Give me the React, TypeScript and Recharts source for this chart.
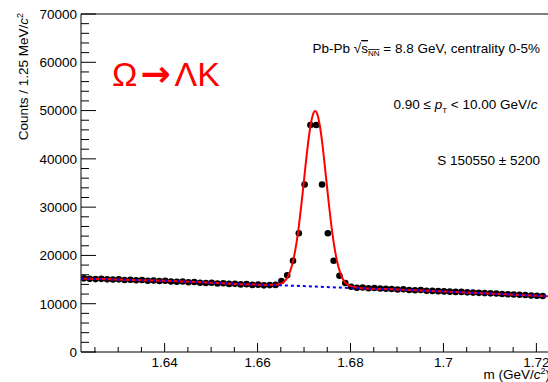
import React from 'react';
import { ComposedChart, Line, XAxis, YAxis, ReferenceLine } from 'recharts';

// histogram binning (1.25 MeV/c^2 bins)
const MASS_MIN = 1.622;
const BIN_WIDTH = 0.00125;

// counts per bin
const counts = [
  15250, 15150, 15100, 15150, 15050, 15000, 15050, 14900, 14950, 14850,
  14900, 14750, 14800, 14700, 14750, 14600, 14550, 14600, 14450, 14500,
  14350, 14300, 14350, 14200, 14250, 14100, 14150, 14000, 14050, 13900,
  13950, 13800, 13850, 13900, 14700, 15900, 18900, 24600, 34700, 47000,
  47000, 34700, 24600, 18900, 15800, 14300, 13500, 13300, 13350, 13200,
  13250, 13150, 13100, 13050, 12950, 13000, 12850, 12800, 12850, 12700,
  12650, 12600, 12550, 12500, 12450, 12450, 12350, 12300, 12250, 12200,
  12150, 12100, 12000, 11950, 11900, 11850, 11800, 11700, 11650, 11600,
];

// background fit (blue dotted)
const bkgFit: [number, number][] = [
  [1.622, 15200], [1.63, 15000], [1.64, 14750], [1.65, 14350], [1.66, 13950],
  [1.67, 13650], [1.68, 13250], [1.69, 12950], [1.7, 12550], [1.71, 12100], [1.7225, 11550],
];

// signal + background fit (red)
const totalFit: [number, number][] = [
  [1.622, 15200], [1.63, 15000], [1.64, 14750], [1.65, 14350], [1.66, 13950],
  [1.6624, 13900], [1.6644, 13990], [1.6654, 14320], [1.6664, 15370], [1.6674, 17900],
  [1.6684, 22770], [1.6689, 26230], [1.6694, 30310], [1.6699, 34780], [1.6704, 39310],
  [1.6709, 43510], [1.6714, 46910], [1.6719, 49140], [1.6724, 49900], [1.6729, 49110],
  [1.6734, 46850], [1.6739, 43420], [1.6744, 39190], [1.6749, 34630], [1.6754, 30130],
  [1.6759, 26030], [1.6764, 22530], [1.6774, 17600], [1.6784, 15010], [1.6794, 13910],
  [1.6804, 13500], [1.6824, 13220], [1.69, 12950], [1.7, 12550], [1.71, 12100], [1.7225, 11550],
];

const xMajorTicks = [1.64, 1.66, 1.68, 1.7, 1.72];
const yMajorTicks = [0, 10000, 20000, 30000, 40000, 50000, 60000, 70000];

const xAllTicks = Array.from({ length: 20 }, (_, i) => Math.round(1625 + i * 5) / 1000);
const yAllTicks = Array.from({ length: 36 }, (_, i) => i * 2000);

const points = counts.map((v, i) => ({ m: MASS_MIN + BIN_WIDTH * (i + 0.5), v }));
const bkgData = bkgFit.map(([m, v]) => ({ m, v }));
const totalData = totalFit.map(([m, v]) => ({ m, v }));

const FONT = '"Liberation Sans", Arial, Helvetica, sans-serif';

const XTick = (props: any) => {
  const { x, y, payload } = props;
  const major = xMajorTicks.some(t => Math.abs(t - payload.value) < 1e-6);
  return (
    <g>
      <line x1={x} x2={x} y1={y} y2={y - (major ? 9 : 5)} stroke="#000" strokeWidth={1} />
      {major && (
        <text x={x} y={y + 14.5} textAnchor="middle" fontSize={13.5} fontFamily={FONT} fill="#000">
          {String(payload.value)}
        </text>
      )}
    </g>
  );
};

const YTick = (props: any) => {
  const { x, y, payload } = props;
  const major = yMajorTicks.includes(payload.value);
  return (
    <g>
      <line x1={x} x2={x + (major ? 15 : 8)} y1={y} y2={y} stroke="#000" strokeWidth={1} />
      {major && (
        <text x={x - 4} y={y + 4.8} textAnchor="end" fontSize={13.5} fontFamily={FONT} fill="#000">
          {String(payload.value)}
        </text>
      )}
    </g>
  );
};

export default function App() {
  return (
    <div style={{ position: 'absolute', left: 0, top: 0, width: 548, height: 382, overflow: 'hidden', background: '#fff' }}>
      <ComposedChart width={560} height={382} margin={{ top: 14, right: 12, bottom: 0, left: 0 }}>
        <XAxis
          type="number"
          dataKey="m"
          domain={[1.622, 1.7225]}
          ticks={xAllTicks}
          interval={0}
          height={30}
          tickSize={0}
          tickMargin={0}
          tickLine={false}
          tick={<XTick />}
          axisLine={{ stroke: '#000' }}
          allowDataOverflow
        />
        <YAxis
          type="number"
          domain={[0, 70000]}
          ticks={yAllTicks}
          interval={0}
          width={81}
          tickSize={0}
          tickMargin={0}
          tickLine={false}
          tick={<YTick />}
          axisLine={{ stroke: '#000' }}
          allowDataOverflow
        />
        <ReferenceLine y={70000} stroke="#000" strokeWidth={1} />
        {/* data points sit under the fit curves, as in the ROOT canvas */}
        <Line
          data={points}
          dataKey="v"
          stroke="none"
          dot={{ r: 3.3, fill: '#000', stroke: 'none' }}
          isAnimationActive={false}
          zIndex={100}
        />
        <Line
          data={totalData}
          dataKey="v"
          type="monotone"
          stroke="#ff0000"
          strokeWidth={2}
          dot={false}
          isAnimationActive={false}
          zIndex={700}
        />
        <Line
          data={bkgData}
          dataKey="v"
          type="monotone"
          stroke="#0000ff"
          strokeWidth={2}
          strokeDasharray="3 3"
          dot={false}
          isAnimationActive={false}
          zIndex={800}
        />
      </ComposedChart>
      <svg width={548} height={382} style={{ position: 'absolute', left: 0, top: 0, pointerEvents: 'none' }} fontFamily={FONT}>
        <text transform="translate(27.5,13) rotate(-90)" textAnchor="end" fontSize={13.5} fill="#000">
          Counts / 1.25 MeV/<tspan fontStyle="italic">c</tspan>
          <tspan dy={-5} fontSize={9}>2</tspan>
        </text>
        <text x={550} y={379} textAnchor="end" fontSize={13.5} fill="#000">
          m (GeV/<tspan fontStyle="italic">c</tspan>
          <tspan dy={-5} fontSize={9}>2</tspan>
          <tspan dy={5}>)</tspan>
        </text>
        <text x={112} y={86} fontSize={34} fill="#ff0000">
          Ω<tspan fontFamily="DejaVu Sans" fontWeight="bold" fontSize={36} dx={3}>→</tspan>
          <tspan dx={4}>ΛK</tspan>
        </text>
        <text x={540} y={53} textAnchor="end" fontSize={13.5} fill="#000">
          Pb-Pb √<tspan style={{ textDecoration: 'overline' }}>s<tspan dy={3} fontSize={8}>NN</tspan></tspan>
          <tspan dy={-3}> = 8.8 GeV, centrality 0-5%</tspan>
        </text>
        <text x={537.5} y={109} textAnchor="end" fontSize={13.5} fill="#000">
          0.90 ≤ <tspan fontStyle="italic">p</tspan>
          <tspan dy={4} fontSize={8}>T</tspan>
          <tspan dy={-4}> &lt; 10.00 GeV/</tspan>
          <tspan fontStyle="italic">c</tspan>
        </text>
        <text x={540} y={165} textAnchor="end" fontSize={13.5} fill="#000">
          S 150550 ± 5200
        </text>
      </svg>
    </div>
  );
}
